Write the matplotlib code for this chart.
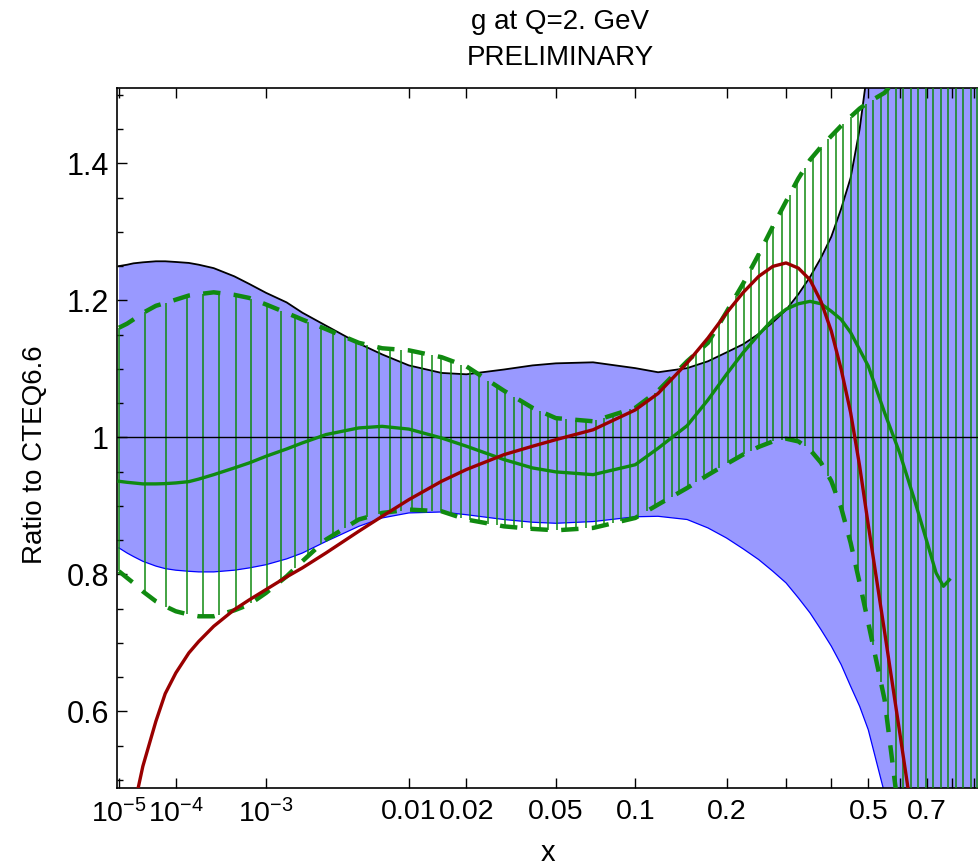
import numpy as np
import matplotlib
matplotlib.use("Agg")
import matplotlib.pyplot as plt
from matplotlib.ticker import FixedLocator, NullFormatter, MultipleLocator

plt.rcParams['font.family'] = ['Liberation Sans', 'DejaVu Sans']
plt.rcParams['mathtext.fontset'] = 'custom'
plt.rcParams['mathtext.rm'] = 'Liberation Sans'
plt.rcParams['mathtext.it'] = 'Liberation Sans:italic'
plt.rcParams['mathtext.bf'] = 'Liberation Sans:bold'

# ---------------- data ----------------
x_grid = [1e-5, 1.5e-5, 2e-5, 3e-5, 5e-5, 7e-5, 1e-4, 1.5e-4, 2e-4, 3e-4, 5e-4, 7e-4,
          1e-3, 1.5e-3, 2e-3, 3e-3, 5e-3, 7e-3, 0.01, 0.015, 0.02, 0.03, 0.04, 0.05,
          0.07, 0.1, 0.12, 0.15, 0.175, 0.2, 0.225, 0.25, 0.275, 0.3, 0.325, 0.35,
          0.375, 0.4, 0.425, 0.45, 0.475, 0.5, 0.55, 0.6, 0.65, 0.7, 0.75, 0.8,
          0.85, 0.9, 0.95]

# CTEQ6.6 uncertainty band (upper = black edge, lower = blue edge)
cteq_hi = [1.250, 1.252, 1.254, 1.2555, 1.257, 1.257, 1.256, 1.2546, 1.252, 1.247, 1.235, 1.224,
           1.211, 1.197, 1.182, 1.163, 1.137, 1.121, 1.105, 1.094, 1.092, 1.099, 1.105, 1.108,
           1.1095, 1.101, 1.095, 1.101, 1.111, 1.124, 1.136, 1.151, 1.168, 1.186, 1.209, 1.234,
           1.262, 1.293, 1.334, 1.379, 1.45, 1.545, 1.85, 2.2, 2.6, 3.0, 3.5, 4.0,
           4.5, 5.0, 5.5]
cteq_lo = [0.8385, 0.831, 0.826, 0.819, 0.812, 0.8083, 0.806, 0.8044, 0.8035, 0.8035, 0.806, 0.8093,
           0.814, 0.8225, 0.831, 0.848, 0.870, 0.8823, 0.8896, 0.891, 0.887, 0.880, 0.876, 0.8745,
           0.877, 0.884, 0.8847, 0.880, 0.8677, 0.853, 0.837, 0.8215, 0.8044, 0.7874, 0.7655, 0.7437,
           0.7193, 0.695, 0.668, 0.6365, 0.6073, 0.573, 0.48, 0.33, 0.15, -0.1, -0.4, -0.7,
           -1.0, -1.3, -1.6]

# new fit uncertainty band (green dashed edges, hatched)
new_hi = [1.160, 1.166, 1.172, 1.1816, 1.192, 1.196, 1.201, 1.207, 1.209, 1.2117, 1.208, 1.2035,
          1.194, 1.1816, 1.172, 1.158, 1.138, 1.130, 1.127, 1.117, 1.1036, 1.068, 1.043, 1.028,
          1.0234, 1.043, 1.068, 1.111, 1.138, 1.183, 1.225, 1.267, 1.308, 1.3445, 1.378, 1.405,
          1.424, 1.440, 1.455, 1.468, 1.480, 1.489, 1.503, 1.53, 1.6, 1.7, 1.8, 2.0,
          2.2, 2.5, 3.0]
new_lo = [0.8044, 0.7947, 0.7874, 0.775, 0.7606, 0.7533, 0.746, 0.7412, 0.7387, 0.7387, 0.7474, 0.7558,
          0.7728, 0.797, 0.819, 0.8507, 0.880, 0.8896, 0.8945, 0.892, 0.880, 0.870, 0.8663, 0.8642,
          0.8677, 0.8823, 0.9018, 0.926, 0.945, 0.961, 0.975, 0.986, 0.994, 0.998, 0.994, 0.982,
          0.963, 0.936, 0.897, 0.846, 0.7874, 0.729, 0.617, 0.44, 0.25, 0.05, -0.2, -0.5,
          -0.8, -1.1, -1.4]

# central new fit (green solid)
mid_x = [1e-5, 1.5e-5, 2e-5, 3e-5, 5e-5, 7e-5, 1e-4, 1.5e-4, 2e-4, 3e-4, 5e-4, 7e-4,
         1e-3, 1.5e-3, 2e-3, 3e-3, 5e-3, 7e-3, 0.01, 0.015, 0.02, 0.03, 0.04, 0.05,
         0.07, 0.1, 0.12, 0.15, 0.175, 0.2, 0.225, 0.25, 0.275, 0.3, 0.325, 0.35,
         0.375, 0.4, 0.425, 0.45, 0.475, 0.5, 0.55, 0.6, 0.65, 0.7, 0.735, 0.765, 0.79]
mid_y = [0.9358, 0.9343, 0.9334, 0.932, 0.932, 0.9324, 0.9334, 0.9353, 0.939, 0.9455, 0.9553, 0.9626,
         0.9723, 0.983, 0.9918, 1.004, 1.0137, 1.016, 1.012, 0.999, 0.987, 0.9675, 0.9553, 0.9495,
         0.9455, 0.960, 0.984, 1.017, 1.0546, 1.092, 1.124, 1.150, 1.172, 1.187, 1.195, 1.1985,
         1.195, 1.184, 1.172, 1.153, 1.128, 1.104, 1.036, 0.977, 0.9115, 0.846, 0.802, 0.7825, 0.792]

# alternative fit (dark red)
red_x = [1e-5, 1.5e-5, 2e-5, 3e-5, 5e-5, 7e-5, 1e-4, 1.5e-4, 2e-4, 3e-4, 5e-4, 7e-4,
         1e-3, 1.5e-3, 2e-3, 3e-3, 5e-3, 7e-3, 0.01, 0.015, 0.02, 0.03, 0.04, 0.05,
         0.07, 0.1, 0.12, 0.15, 0.175, 0.2, 0.225, 0.25, 0.275, 0.3, 0.325, 0.35,
         0.375, 0.4, 0.425, 0.45, 0.475, 0.5, 0.55, 0.6, 0.65, 0.7]
red_y = [0.353, 0.413, 0.456, 0.5197, 0.5854, 0.6258, 0.656, 0.6852, 0.702, 0.7241, 0.7485, 0.7626,
         0.7777, 0.7962, 0.8093, 0.8312, 0.8628, 0.8847, 0.909, 0.9358, 0.953, 0.9747, 0.987, 0.9966,
         1.011, 1.040, 1.064, 1.1086, 1.145, 1.1816, 1.2117, 1.235, 1.2496, 1.2546, 1.247, 1.230,
         1.1985, 1.155, 1.099, 1.036, 0.958, 0.872, 0.716, 0.569, 0.43, 0.28]

# sample points of the hatched band (vertical fill lines)
hatch_x = [1.0e-5, 3.28e-5, 7.27e-5, 1.41e-4, 2.23e-4, 3.46e-4, 5.20e-4, 7.29e-4, 1.015e-3,
           1.34e-3, 1.75e-3, 2.22e-3, 2.75e-3, 3.38e-3, 4.04e-3, 4.82e-3, 5.67e-3, 6.66e-3,
           7.82e-3, 9.06e-3, 0.01044, 0.01185, 0.01336, 0.01496, 0.01682, 0.01888, 0.02075,
           0.02292, 0.02535, 0.0279, 0.03041, 0.03315, 0.03614, 0.03939, 0.04286, 0.04643,
           0.05055, 0.05493, 0.06013, 0.06574, 0.07178, 0.07714, 0.08288, 0.08886, 0.09596,
           0.1024, 0.1096, 0.1171, 0.1254, 0.1334, 0.1414, 0.1507, 0.1603, 0.1697, 0.1798,
           0.19, 0.2016, 0.2138, 0.2256, 0.2372, 0.2511, 0.2644, 0.2752, 0.2915, 0.3072,
           0.3227, 0.3391, 0.3567, 0.3745, 0.3926, 0.4108, 0.4295, 0.4499, 0.471, 0.4924,
           0.5142, 0.5378, 0.561, 0.5863, 0.6109, 0.6379, 0.6648, 0.6938, 0.7222, 0.7535,
           0.7841, 0.8172, 0.8494, 0.8849, 0.916]

xtick_vals = [1e-5, 1e-4, 1e-3, 0.01, 0.02, 0.05, 0.1, 0.2, 0.5, 0.7]
xtick_labels = [r'$\mathregular{10^{-5}}$', r'$\mathregular{10^{-4}}$', r'$\mathregular{10^{-3}}$',
                '0.01', '0.02', '0.05', '0.1', '0.2', '0.5', '0.7']
xtick_minor = [0.3, 0.4, 0.6, 0.8, 0.9]
ytick_vals = [0.6, 0.8, 1.0, 1.2, 1.4]
ytick_labels = ['0.6', '0.8', '1', '1.2', '1.4']

# ---------------- plot ----------------
W, H = 979, 867
fig = plt.figure(figsize=(W / 100, H / 100), dpi=100)
ax = fig.add_axes([117.3 / W, 1 - 788 / H, (979 - 117.3) / W, (788 - 88) / H])

fwd = lambda v: np.power(np.clip(v, 0, None), 0.2)
inv = lambda u: np.power(np.clip(u, 0, None), 5.0)
ax.set_xscale('function', functions=(fwd, inv))

green = '#108a10'
ax.fill_between(x_grid, cteq_lo, cteq_hi, color='#9999ff', lw=0, zorder=1)
ax.plot(x_grid, cteq_hi, color='black', lw=1.3, zorder=2)
ax.plot(x_grid, cteq_lo, color='#0000ff', lw=0.9, zorder=2)

lx = np.log(np.array(x_grid))
hx = np.array(hatch_x)
h_lo = np.interp(np.log(hx), lx, new_lo)
h_hi = np.interp(np.log(hx), lx, new_hi)
ax.vlines(hx, h_lo, h_hi, color=green, lw=1.1, zorder=3)

ax.plot(x_grid, new_hi, color=green, lw=3.2, ls=(0, (3.9, 3.0)), dash_capstyle='butt', zorder=4)
ax.plot(x_grid, new_lo, color=green, lw=3.2, ls=(0, (3.9, 3.0)), dash_capstyle='butt', zorder=4)

ax.axhline(1.0, color='black', lw=1.0, zorder=5)
ax.plot(mid_x, mid_y, color=green, lw=2.4, zorder=6, solid_joinstyle='round')
ax.plot(red_x, red_y, color='#990000', lw=2.4, zorder=7, solid_joinstyle='round')

ax.set_xlim(0.0983 ** 5, 0.9844 ** 5)
ax.set_ylim(0.488, 1.51)

ax.set_xticks(xtick_vals)
ax.set_xticklabels(xtick_labels)
ax.xaxis.set_minor_locator(FixedLocator(xtick_minor))
ax.xaxis.set_minor_formatter(NullFormatter())
ax.set_yticks(ytick_vals)
ax.set_yticklabels(ytick_labels)
ax.yaxis.set_minor_locator(MultipleLocator(0.05))

ax.tick_params(which='both', direction='in', top=True, right=False, width=1.0)
ax.tick_params(axis='x', which='both', length=7, pad=8, labelsize=20.5)
ax.tick_params(axis='y', which='major', length=7, pad=6, labelsize=22)
ax.tick_params(axis='y', which='minor', length=4)
ax.spines['right'].set_visible(False)
for s in ['left', 'top', 'bottom']:
    ax.spines[s].set_linewidth(1.2)

fig.text(35 / W, 1 - 455 / H, 'Ratio to CTEQ6.6', rotation=90, ha='center', va='center', fontsize=20)
fig.text(548 / W, 1 - 853 / H, 'x', ha='center', va='center', fontsize=21)
fig.text(560 / W, 1 - 22 / H, 'g at Q=2. GeV', ha='center', va='center', fontsize=20)
fig.text(560 / W, 1 - 58 / H, 'PRELIMINARY', ha='center', va='center', fontsize=20)

fig.savefig('out.png', dpi=100)
